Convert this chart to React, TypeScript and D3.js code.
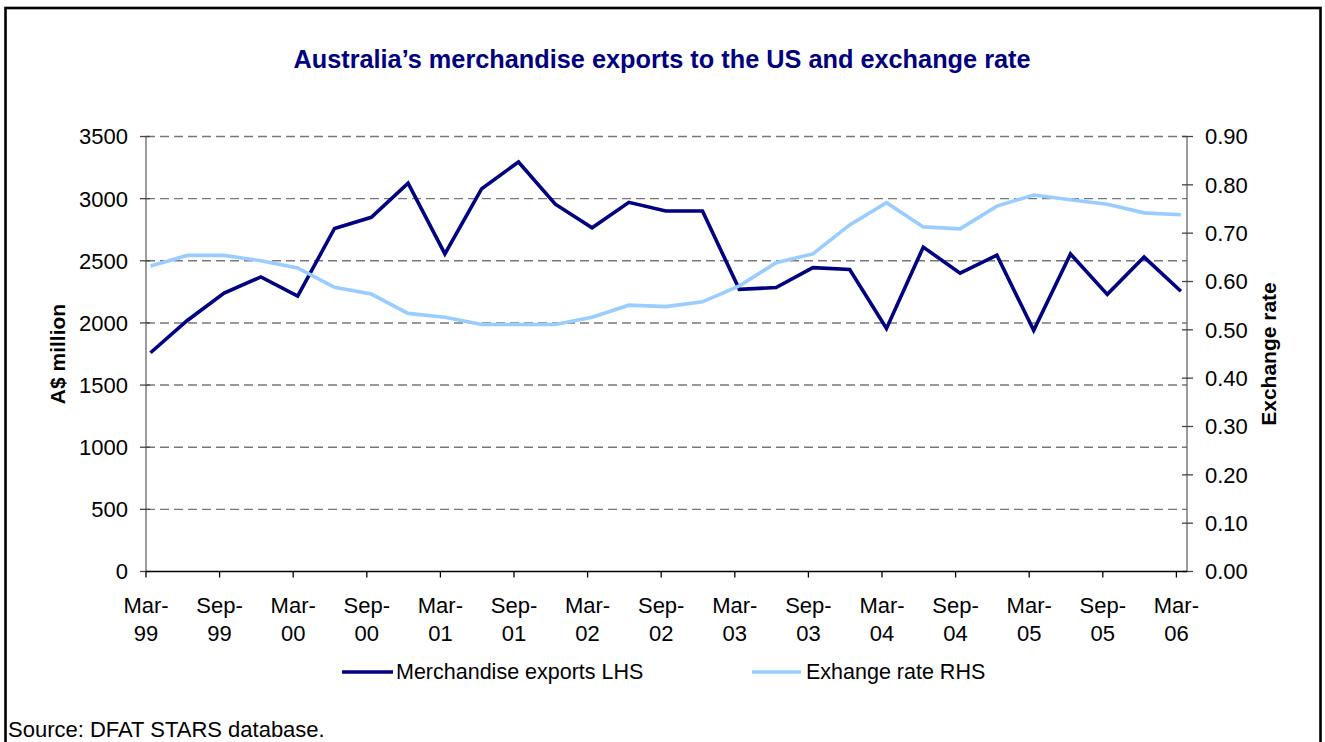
import React from "react";
import * as d3 from "d3";

const categories = ["Mar-99","Sep-99","Mar-00","Sep-00","Mar-01","Sep-01","Mar-02","Sep-02","Mar-03","Sep-03","Mar-04","Sep-04","Mar-05","Sep-05","Mar-06"];
const exportsLHS = [1760, 2020, 2240, 2370, 2215, 2760, 2850, 3125, 2555, 3080, 3295, 2955, 2765, 2970, 2900, 2900, 2270, 2285, 2445, 2430, 1955, 2610, 2400, 2545, 1940, 2555, 2230, 2530, 2255];
const rateRHS = [0.632, 0.654, 0.654, 0.643, 0.628, 0.588, 0.574, 0.534, 0.526, 0.511, 0.511, 0.511, 0.526, 0.551, 0.548, 0.558, 0.591, 0.639, 0.657, 0.717, 0.763, 0.713, 0.709, 0.756, 0.779, 0.769, 0.760, 0.742, 0.738];
const leftTicks = [0, 500, 1000, 1500, 2000, 2500, 3000, 3500];
const rightTicks = [0, 0.1, 0.2, 0.3, 0.4, 0.5, 0.6, 0.7, 0.8, 0.9];

const W = 1325, H = 742;
const left = 146, right = 1187, top = 136.5, bottom = 571.5;
const FONT = "'Liberation Sans', Arial, sans-serif";
const DARK = "#000080";
const LIGHT = "#99CCFF";

export default function App() {
  const x = d3.scaleLinear().domain([-0.122, 28.166]).range([left, right]);
  const yL = d3.scaleLinear().domain([0, 3500]).range([bottom, top]);
  const yR = d3.scaleLinear().domain([0, 0.9]).range([bottom, top]);
  const lineL = d3.line<number>().x((_, i) => x(i)).y(d => yL(d));
  const lineR = d3.line<number>().x((_, i) => x(i)).y(d => yR(d));
  const tickIdx = categories.map((_, k) => -0.122 + 2 * k);
  const fs = 22;

  return (
    <svg width={W} height={H} style={{ position: "absolute", left: 0, top: 0, display: "block", background: "#fff" }} fontFamily={FONT}>
      <rect x={5.5} y={8} width={1315} height={745} fill="#fff" stroke="#000" strokeWidth={2.6} />
      <text x={662} y={68} textAnchor="middle" fontWeight="bold" fontSize={25.3} fill={DARK}>
        Australia’s merchandise exports to the US and exchange rate
      </text>

      {leftTicks.filter(v => v > 0).map(v => (
        <line key={"g" + v} x1={left} x2={right} y1={yL(v)} y2={yL(v)} stroke="#777" strokeWidth={1.4} strokeDasharray="9 5" />
      ))}

      {/* left axis */}
      <line x1={left} x2={left} y1={top} y2={bottom} stroke="#666" strokeWidth={1.3} />
      {leftTicks.map(v => (
        <g key={"l" + v}>
          <line x1={left - 6} x2={left + 4} y1={yL(v)} y2={yL(v)} stroke="#444" strokeWidth={1.3} />
          <text x={128} y={yL(v)} dy="0.36em" textAnchor="end" fontSize={fs} fill="#000">{v}</text>
        </g>
      ))}

      {/* right axis */}
      <line x1={right} x2={right} y1={top} y2={bottom} stroke="#666" strokeWidth={1.3} />
      {rightTicks.map(v => (
        <g key={"r" + v}>
          <line x1={right - 5} x2={right + 6} y1={yR(v)} y2={yR(v)} stroke="#444" strokeWidth={1.3} />
          <text x={1205} y={yR(v)} dy="0.36em" textAnchor="start" fontSize={fs} fill="#000">{v.toFixed(2)}</text>
        </g>
      ))}

      {/* x axis */}
      <line x1={left} x2={right} y1={bottom} y2={bottom} stroke="#000" strokeWidth={1.3} />
      {categories.map((c, k) => {
        const tx = x(tickIdx[k]);
        const [a, b] = c.split("-");
        return (
          <g key={c}>
            <line x1={tx} x2={tx} y1={bottom} y2={bottom + 6} stroke="#000" strokeWidth={1.3} />
            <text x={tx} y={613} textAnchor="middle" fontSize={fs} fill="#000">{a + "-"}</text>
            <text x={tx} y={641} textAnchor="middle" fontSize={fs} fill="#000">{b}</text>
          </g>
        );
      })}

      <text transform={`translate(65,354) rotate(-90)`} textAnchor="middle" fontWeight="bold" fontSize={21} fill="#000">A$ million</text>
      <text transform={`translate(1276,354) rotate(-90)`} textAnchor="middle" fontWeight="bold" fontSize={21} fill="#000">Exchange rate</text>

      <path d={lineL(exportsLHS) || ""} fill="none" stroke={DARK} strokeWidth={3.6} strokeLinejoin="miter" />
      <path d={lineR(rateRHS) || ""} fill="none" stroke={LIGHT} strokeWidth={3.6} strokeLinejoin="miter" />

      {/* legend */}
      <line x1={342} x2={393} y1={672} y2={672} stroke={DARK} strokeWidth={3.6} />
      <text x={396} y={679} fontSize={21.5} fill="#000">Merchandise exports LHS</text>
      <line x1={752} x2={801} y1={672} y2={672} stroke={LIGHT} strokeWidth={3.6} />
      <text x={806} y={679} fontSize={21.5} fill="#000">Exhange rate RHS</text>

      <text x={8} y={737} fontSize={fs} fill="#000">Source: DFAT STARS database.</text>
    </svg>
  );
}
